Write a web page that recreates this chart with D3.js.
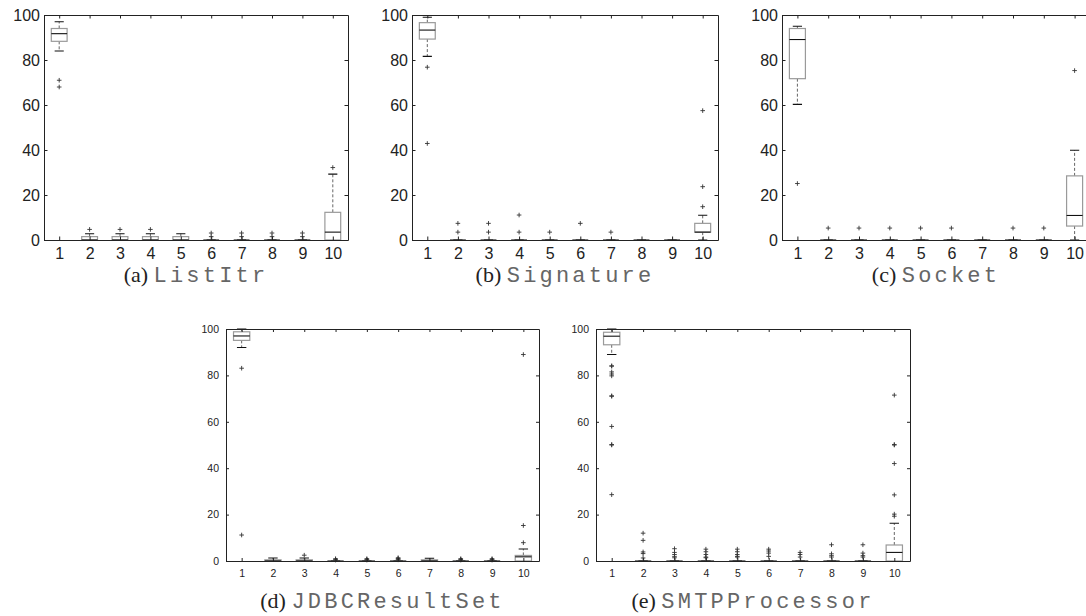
<!DOCTYPE html>
<html>
<head>
<meta charset="utf-8">
<script src="https://cdn.jsdelivr.net/npm/d3@7"></script>
<style>
  body { margin: 0; background: #fff; }
  svg { display: block; }
</style>
</head>
<body>
<svg width="1086" height="616"></svg>
<script>
//-- data --//
const runs = [1, 2, 3, 4, 5, 6, 7, 8, 9, 10];
const yTicks = [0, 20, 40, 60, 80, 100];

// each box: [lower whisker, q1, median, q3, upper whisker]
const listItrBoxes = [
  [84, 88.3, 91.7, 94, 97], [0, 0, 0, 1.5, 2.8], [0, 0, 0, 1.5, 2.8], [0, 0, 0, 1.5, 2.8], [0, 0, 0, 1.5, 2.8],
  [0, 0, 0, 0, 0], [0, 0, 0, 0, 0], [0, 0, 0, 0, 0], [0, 0, 0, 0, 0], [0, 0, 3.5, 12.3, 29.3]
];
const listItrOutliers = [[71, 68], [4.7], [4.7], [4.7], [], [1.5, 3.1], [1.5, 3.1], [1.5, 3.1], [1.5, 3.1], [32.2]];

const signatureBoxes = [
  [81.6, 89.3, 93.3, 96.6, 99], [0, 0, 0, 0, 0], [0, 0, 0, 0, 0], [0, 0, 0, 0, 0], [0, 0, 0, 0, 0],
  [0, 0, 0, 0, 0], [0, 0, 0, 0, 0], [0, 0, 0, 0, 0], [0, 0, 0, 0, 0], [0, 3.5, 3.5, 7.4, 11]
];
const signatureOutliers = [[76.8, 42.9], [7.4, 3.5], [7.4, 3.5], [11.1, 3.5], [3.5], [7.4], [3.5], [], [], [14.8, 23.7, 57.5]];

const socketBoxes = [
  [60.3, 71.7, 89.1, 94, 95], [0, 0, 0, 0, 0], [0, 0, 0, 0, 0], [0, 0, 0, 0, 0], [0, 0, 0, 0, 0],
  [0, 0, 0, 0, 0], [0, 0, 0, 0, 0], [0, 0, 0, 0, 0], [0, 0, 0, 0, 0], [0, 6.2, 10.9, 28.5, 39.9]
];
const socketOutliers = [[25.1], [5.3], [5.3], [5.3], [5.3], [5.3], [], [5.3], [5.3], [75.3]];

const jdbcBoxes = [
  [92, 95.1, 97, 98.8, 100], [0, 0, 0, 0.5, 1.3], [0, 0, 0, 0.5, 1.3], [0, 0, 0, 0, 0], [0, 0, 0, 0, 0],
  [0, 0, 0, 0, 0], [0, 0, 0, 0.5, 1.2], [0, 0, 0, 0, 0], [0, 0, 0, 0, 0], [0, 0, 1.8, 2.4, 5.2]
];
const jdbcOutliers = [
  [83.1, 11.2], [], [2.5], [0.4, 0.7, 1.0], [0.4, 0.7, 1.0],
  [0.5, 0.8, 1.1, 1.4], [], [0.4, 0.7, 1.0], [0.4, 0.7, 1.0], [7.9, 15.3, 89]
];

const smtpBoxes = [
  [89, 93.2, 96.9, 98.6, 100], [0, 0, 0, 0, 0], [0, 0, 0, 0, 0], [0, 0, 0, 0, 0], [0, 0, 0, 0, 0],
  [0, 0, 0, 0, 0], [0, 0, 0, 0, 0], [0, 0, 0, 0, 0], [0, 0, 0, 0, 0], [0, 0, 3.7, 6.9, 16.3]
];
const smtpOutliers = [
  [84.1, 84, 81.5, 80.6, 79.8, 71.2, 71, 58, 50, 50.2, 28.6],
  [12, 8.9, 3.9, 3.2, 1.3], [5.3, 3.7, 2.8, 2, 1.4], [5.1, 4, 2.8, 1.7, 1.4], [5.1, 4, 2.8, 2, 1.7],
  [5.1, 4.3, 3.4, 2], [3.7, 2.8, 1.7], [7, 3.1, 2.3, 1.7], [7, 3.4, 2.3, 1.7],
  [19.3, 20.2, 28.5, 42, 50, 50.2, 71.5]
];

//-- layout --//
const panels = [
  {tag: "(a)", name: "ListItr", boxes: listItrBoxes, outliers: listItrOutliers,
   left: 44, right: 348, top: 15, bottom: 240, font: 16, tick: 3.5, xPad: 8, yPad: 4, capY: 282},
  {tag: "(b)", name: "Signature", boxes: signatureBoxes, outliers: signatureOutliers,
   left: 412, right: 718, top: 15, bottom: 240, font: 16, tick: 3.5, xPad: 8, yPad: 4, capY: 282},
  {tag: "(c)", name: "Socket", boxes: socketBoxes, outliers: socketOutliers,
   left: 782, right: 1090, top: 15, bottom: 240, font: 16, tick: 3.5, xPad: 8, yPad: 4, capY: 282},
  {tag: "(d)", name: "JDBCResultSet", boxes: jdbcBoxes, outliers: jdbcOutliers,
   left: 226, right: 539, top: 329, bottom: 561, font: 10.5, tick: 3, xPad: 9, yPad: 7, capY: 608},
  {tag: "(e)", name: "SMTPProcessor", boxes: smtpBoxes, outliers: smtpOutliers,
   left: 596, right: 910, top: 329, bottom: 561, font: 10.5, tick: 3, xPad: 9, yPad: 7, capY: 608}
];

const svg = d3.select("svg");

panels.forEach(p => {
  const x = d3.scaleLinear().domain([0.5, 10.5]).range([p.left, p.right]);
  const y = d3.scaleLinear().domain([0, 100]).range([p.bottom, p.top]);
  const step = x(2) - x(1);
  const bw = step * 0.26;   // half box width
  const cw = step * 0.15;   // half cap width

  const g = svg.append("g");

  const stats = runs.map((r, i) => ({run: r, s: p.boxes[i]}));

  // whiskers
  g.append("g").selectAll("path")
    .data(stats)
    .join("path")
    .attr("fill", "none")
    .attr("stroke", "#555")
    .attr("stroke-width", 0.9)
    .attr("stroke-dasharray", "3,2")
    .attr("d", d => `M${x(d.run)},${y(d.s[3])}V${y(d.s[4])}M${x(d.run)},${y(d.s[1])}V${y(d.s[0])}`);

  // caps
  g.append("g").selectAll("path")
    .data(stats)
    .join("path")
    .attr("fill", "none")
    .attr("stroke", "#111")
    .attr("stroke-width", 1.1)
    .attr("d", d => `M${x(d.run) - cw},${y(d.s[4])}H${x(d.run) + cw}M${x(d.run) - cw},${y(d.s[0])}H${x(d.run) + cw}`);

  // boxes
  g.append("g").selectAll("rect")
    .data(stats)
    .join("rect")
    .attr("x", d => x(d.run) - bw)
    .attr("width", bw * 2)
    .attr("y", d => y(d.s[3]))
    .attr("height", d => y(d.s[1]) - y(d.s[3]))
    .attr("fill", "#fff")
    .attr("stroke", "#9a9a9a")
    .attr("stroke-width", 1.2);

  // medians
  g.append("g").selectAll("line")
    .data(stats)
    .join("line")
    .attr("x1", d => x(d.run) - bw)
    .attr("x2", d => x(d.run) + bw)
    .attr("y1", d => y(d.s[2]))
    .attr("y2", d => y(d.s[2]))
    .attr("stroke", "#111")
    .attr("stroke-width", 1.1);

  // outliers
  const pts = runs.flatMap((r, i) => p.outliers[i].map(v => ({run: r, v})));
  g.append("g").selectAll("path")
    .data(pts)
    .join("path")
    .attr("fill", "none")
    .attr("stroke", "#333")
    .attr("stroke-width", 0.9)
    .attr("d", d => `M${x(d.run) - 2.3},${y(d.v)}h4.6M${x(d.run)},${y(d.v) - 2.3}v4.6`);

  // axes (ticks pointing inward)
  const axisStyle = a => a
    .call(s => s.select(".domain").attr("stroke", "#222"))
    .call(s => s.selectAll(".tick line").attr("stroke", "#222"))
    .call(s => s.selectAll("text").attr("fill", "#222"))
    .attr("font-family", "'Liberation Sans', Arial, sans-serif")
    .attr("font-size", p.font);

  g.append("g")
    .attr("transform", `translate(0,${p.bottom})`)
    .call(d3.axisBottom(x).tickValues(runs).tickFormat(d3.format("d"))
      .tickSizeInner(-p.tick).tickSizeOuter(0).tickPadding(p.xPad))
    .call(axisStyle);

  g.append("g")
    .attr("transform", `translate(0,${p.top})`)
    .call(d3.axisTop(x).tickValues(runs).tickFormat("")
      .tickSizeInner(-p.tick).tickSizeOuter(0))
    .call(axisStyle);

  g.append("g")
    .attr("transform", `translate(${p.left},0)`)
    .call(d3.axisLeft(y).tickValues(yTicks)
      .tickSizeInner(-p.tick).tickSizeOuter(0).tickPadding(p.yPad))
    .call(axisStyle);

  g.append("g")
    .attr("transform", `translate(${p.right},0)`)
    .call(d3.axisRight(y).tickValues(yTicks).tickFormat("")
      .tickSizeInner(-p.tick).tickSizeOuter(0))
    .call(axisStyle);

  // caption
  const cap = g.append("text")
    .attr("x", (p.left + p.right) / 2)
    .attr("y", p.capY)
    .attr("text-anchor", "middle")
    .attr("fill", "#222");
  cap.append("tspan")
    .attr("font-family", "'Liberation Serif', 'Times New Roman', serif")
    .attr("font-size", 22)
    .text(p.tag + " ");
  cap.append("tspan")
    .attr("font-family", "'Liberation Mono', 'Courier New', monospace")
    .attr("font-size", 22)
    .attr("letter-spacing", 3.2)
    .attr("fill", "#666")
    .text(p.name);
});
</script>
</body>
</html>
